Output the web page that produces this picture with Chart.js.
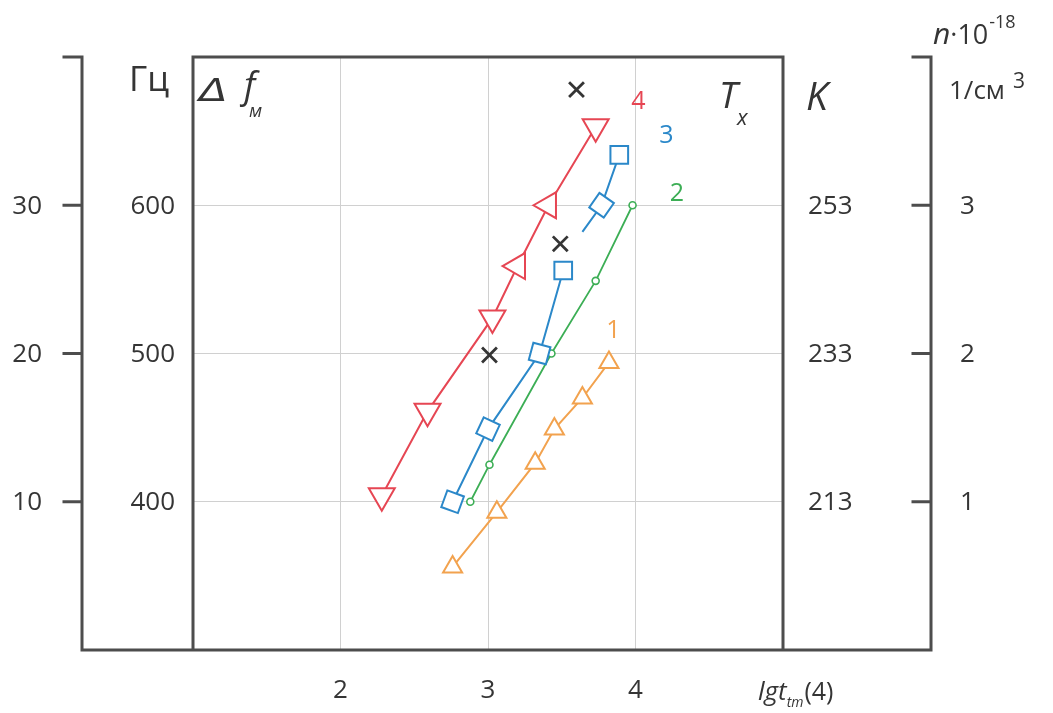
<!DOCTYPE html>
<html>
<head>
<meta charset="utf-8">
<script src="https://cdn.jsdelivr.net/npm/chart.js@4/dist/chart.umd.min.js"></script>
<style>
  html, body { margin: 0; padding: 0; background: #fff; }
  canvas { display: block; }
</style>
</head>
<body>
<canvas id="c" width="1053" height="713"></canvas>
<script>
// Curve 1..4: lg t (abscissa) and Δf in Гц (ordinate, 400..600 scale)
const lgT1 = [2.76, 3.06, 3.32, 3.45, 3.64, 3.82];
const df1  = [356, 393, 426, 449, 470, 494];
const lgT2 = [2.88, 3.01, 3.43, 3.73, 3.98];
const df2  = [400, 425, 500, 549, 600];
const lgT3 = [2.76, 3.00, 3.35, 3.51, null, 3.64, 3.77, 3.89];
const df3  = [400, 449, 500, 556, null, 582, 600, 634];
const lgT4 = [2.28, 2.59, 3.03, 3.20, 3.41, 3.73];
const df4  = [404, 461, 524, 559, 600, 653];
// separate "x" marks
const lgTx = [3.01, 3.49, 3.60];
const dfX  = [499, 574, 678];

// tick labels; the four vertical scales share the same tick rows
const xTicks  = [2, 3, 4];
const dfTicks = [400, 500, 600];
const hzTicks = [10, 20, 30];
const tTicks  = [213, 233, 253];
const nTicks  = [1, 2, 3];

const RED = '#e64653', BLUE = '#2b88c9', GREEN = '#3cae55', ORANGE = '#f2a24e';
const INK = '#353535', FRAME = '#4d4d4d', GRID = '#d0d0d0';
const FONT = '"Open Sans", "Noto Sans", sans-serif';

const pts = (xs, ys) => xs.map((v, i) => ({ x: v, y: ys[i] }));

// curve numbers, placed in data units
const curveNames = [
  { text: '4', lg: 4.02, df: 670, color: RED },
  { text: '3', lg: 4.21, df: 647, color: BLUE },
  { text: '2', lg: 4.28, df: 608, color: GREEN },
  { text: '1', lg: 3.85, df: 515, color: ORANGE }
];

function piece(ctx, s, x, y, font, color) {
  ctx.font = font;
  ctx.fillStyle = color;
  ctx.fillText(s, x, y);
  return x + ctx.measureText(s).width;
}

const frameAndLabels = {
  id: 'frameAndLabels',
  afterDraw(chart) {
    const { ctx, chartArea: a, scales } = chart;
    const xs = scales.x, ys = scales.y;
    ctx.save();

    // frames
    ctx.strokeStyle = FRAME;
    ctx.lineWidth = 3;
    ctx.lineCap = 'square';
    const oL = a.left - 111, oR = a.right + 148;
    ctx.beginPath();
    ctx.rect(a.left, a.top, a.right - a.left, a.bottom - a.top);
    // baseline across all axes
    ctx.moveTo(oL, a.bottom); ctx.lineTo(oR, a.bottom);
    // outer left axis with cap
    ctx.moveTo(oL - 18, a.top); ctx.lineTo(oL, a.top); ctx.lineTo(oL, a.bottom);
    // outer right axis with cap
    ctx.moveTo(oR - 18, a.top); ctx.lineTo(oR, a.top); ctx.lineTo(oR, a.bottom);
    dfTicks.forEach(v => {
      const py = ys.getPixelForValue(v);
      ctx.moveTo(oL - 18, py); ctx.lineTo(oL, py);
      ctx.moveTo(oR - 18, py); ctx.lineTo(oR, py);
    });
    ctx.stroke();

    // tick labels
    ctx.fillStyle = INK;
    ctx.font = '26px ' + FONT;
    ctx.textBaseline = 'middle';
    dfTicks.forEach((v, i) => {
      const py = ys.getPixelForValue(v) + 1;
      ctx.textAlign = 'right';
      ctx.fillText(String(v), a.left - 18, py);
      ctx.fillText(String(hzTicks[i]), oL - 40, py);
      ctx.textAlign = 'left';
      ctx.fillText(String(tTicks[i]), a.right + 25, py);
      ctx.fillText(String(nTicks[i]), oR + 29, py);
    });
    ctx.textAlign = 'center';
    xTicks.forEach(v => ctx.fillText(String(v), xs.getPixelForValue(v), a.bottom + 41));

    // curve numbers
    ctx.font = '25px ' + FONT;
    curveNames.forEach(n => {
      ctx.fillStyle = n.color;
      ctx.fillText(n.text, xs.getPixelForValue(n.lg), ys.getPixelForValue(n.df));
    });

    // axis titles
    ctx.textAlign = 'left';
    ctx.textBaseline = 'alphabetic';
    piece(ctx, 'Гц', 129, 91, '35px ' + FONT, INK);
    // wide slanted delta
    ctx.save();
    ctx.translate(199, 101);
    ctx.scale(1.35, 1);
    piece(ctx, 'Δ', 0, 0, 'italic 31px "DejaVu Sans", sans-serif', INK);
    ctx.restore();
    piece(ctx, 'f', 244, 98, 'italic 36px ' + FONT, INK);
    piece(ctx, 'м', 249, 117, 'italic 19px ' + FONT, INK);

    piece(ctx, 'T', 719, 108, 'italic 37px ' + FONT, INK);
    piece(ctx, 'x', 737, 125, 'italic 22px ' + FONT, INK);
    piece(ctx, 'K', 806, 110, 'italic 39px ' + FONT, INK);

    let px = piece(ctx, 'n', 933, 44, 'italic 30px ' + FONT, INK);
    px = piece(ctx, '·10', px, 44, '27px ' + FONT, INK);
    piece(ctx, '-18', px + 1, 28, '18px ' + FONT, INK);
    px = piece(ctx, '1/см', 949, 99, '26px ' + FONT, INK);
    piece(ctx, '3', px + 8, 88, '21px ' + FONT, INK);

    px = piece(ctx, 'lgt', 758, 700, 'italic 26px ' + FONT, INK);
    px = piece(ctx, 'tm', px, 707, 'italic 14px ' + FONT, INK);
    piece(ctx, '(4)', px + 1, 700, '25px ' + FONT, INK);

    ctx.restore();
  }
};

const R3 = 12.5;
new Chart(document.getElementById('c'), {
  type: 'scatter',
  data: {
    datasets: [
      {
        data: pts(lgTx, dfX), showLine: false,
        pointStyle: 'crossRot', pointRadius: 10.5, pointBorderWidth: 2.8,
        pointBorderColor: INK, pointBackgroundColor: INK
      },
      {
        data: pts(lgT4, df4), showLine: true, borderColor: RED, borderWidth: 2,
        pointStyle: 'triangle', pointRadius: 15, pointBorderWidth: 2,
        pointRotation: [180, 180, 180, 270, 270, 180],
        pointBorderColor: RED, pointBackgroundColor: '#fff'
      },
      {
        data: pts(lgT3, df3), showLine: true, spanGaps: false, borderColor: BLUE, borderWidth: 2,
        pointStyle: 'rect', pointRadius: [R3, R3, R3, R3, 0, 0, R3, R3], pointBorderWidth: 2,
        pointRotation: [20, 25, 15, 0, 0, 0, 35, 0],
        pointBorderColor: BLUE, pointBackgroundColor: '#fff'
      },
      {
        data: pts(lgT2, df2), showLine: true, borderColor: GREEN, borderWidth: 1.8,
        pointStyle: 'circle', pointRadius: 3.5, pointBorderWidth: 1.6,
        pointBorderColor: GREEN, pointBackgroundColor: '#fff'
      },
      {
        data: pts(lgT1, df1), showLine: true, borderColor: ORANGE, borderWidth: 2,
        pointStyle: 'triangle', pointRadius: 11, pointBorderWidth: 2,
        pointBorderColor: ORANGE, pointBackgroundColor: '#fff'
      }
    ]
  },
  options: {
    responsive: false,
    animation: false,
    events: [],
    layout: { padding: { left: 193, right: 270, top: 57, bottom: 63 } },
    plugins: { legend: { display: false }, tooltip: { enabled: false } },
    scales: {
      x: {
        type: 'linear', min: 1, max: 5,
        ticks: { display: false, stepSize: 1 },
        grid: { color: GRID, lineWidth: 1, drawTicks: false },
        border: { display: false }
      },
      y: {
        type: 'linear', min: 300, max: 700,
        ticks: { display: false, stepSize: 100 },
        grid: { color: GRID, lineWidth: 1, drawTicks: false },
        border: { display: false }
      }
    }
  },
  plugins: [frameAndLabels]
});
</script>
</body>
</html>
